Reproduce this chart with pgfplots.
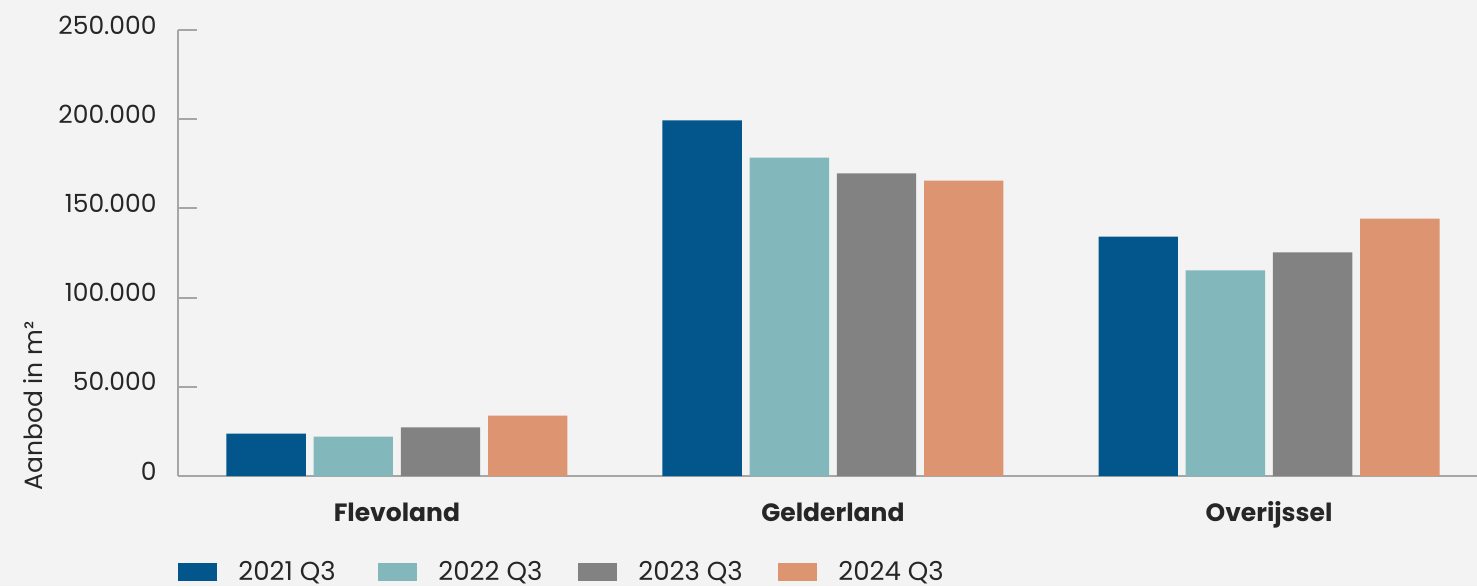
\documentclass[border=0pt]{standalone}
\usepackage{pgfplots}
\pgfplotsset{compat=1.18}
\usepackage{fontspec}
\setmainfont{Poppins}
\definecolor{bg}{HTML}{F3F3F3}
\definecolor{axgray}{HTML}{A6A6A6}
\definecolor{txt}{HTML}{262626}
\definecolor{cA}{HTML}{02568B}
\definecolor{cB}{HTML}{82B7BC}
\definecolor{cC}{HTML}{828282}
\definecolor{cD}{HTML}{DC9570}
\pgfplotsset{boxlegend/.style={legend image code/.code={\fill[##1] (0pt,-4.5pt) rectangle (19.5pt,4.5pt);}}}
\begin{document}
\begin{tikzpicture}
\fill[bg] (0,0) rectangle (738.5pt,293pt);
\begin{axis}[
  at={(89pt,55pt)}, anchor=south west,
  width=649.5pt, height=223pt, scale only axis,
  xmin=-0.502, xmax=2.477, ymin=0, ymax=250000,
  axis x line*=bottom, axis y line*=left,
  axis line style={axgray, line width=1pt, -},
  ytick={0,50000,100000,150000,200000,250000},
  yticklabels={0,50.000,100.000,150.000,200.000,250.000},
  xtick={0,1,2}, xticklabels={Flevoland,Gelderland,Overijssel},
  scaled y ticks=false,
  tick align=inside, major tick length=9.5pt,
  ytick style={axgray, line width=1pt},
  xtick style={draw=none},
  yticklabel style={font=\fontsize{12.5}{15}\selectfont, text=txt, inner sep=0pt, anchor=east, xshift=-10.5pt, yshift=2.5pt},
  xticklabel style={font=\fontsize{12.5}{15}\selectfont\bfseries, text=txt, inner sep=0pt, anchor=base, yshift=-22.5pt},
  ylabel={Aanbod in m²},
  ylabel style={font=\fontsize{12.5}{15}\selectfont, text=txt, at={(axis description cs:-0.1116,0.157)}, anchor=center},
  legend columns=4,
  legend style={draw=none, fill=none, inner xsep=0pt, inner ysep=0pt,
    nodes={inner sep=0pt, text=txt, font=\fontsize{13}{15}\selectfont},
    at={(axis description cs:0,0)}, anchor=west, yshift=-48pt,
    /tikz/every odd column/.append style={column sep=10.5pt},
    /tikz/every even column/.append style={column sep=20pt}},
]
\addplot[ybar, bar width=0.182, bar shift=-0.3, fill=cA, draw=none, boxlegend]
  coordinates {(0,23800) (1,199300) (2,134200)};
\addlegendentry{\makebox[50pt][l]{2021 Q3}}
\addplot[ybar, bar width=0.182, bar shift=-0.1, fill=cB, draw=none, boxlegend]
  coordinates {(0,22100) (1,178500) (2,115200)};
\addlegendentry{\makebox[50pt][l]{2022 Q3}}
\addplot[ybar, bar width=0.182, bar shift=0.1, fill=cC, draw=none, boxlegend]
  coordinates {(0,27200) (1,169600) (2,125300)};
\addlegendentry{\makebox[50pt][l]{2023 Q3}}
\addplot[ybar, bar width=0.182, bar shift=0.3, fill=cD, draw=none, boxlegend]
  coordinates {(0,33900) (1,165600) (2,144300)};
\addlegendentry{\makebox[50pt][l]{2024 Q3}}
\end{axis}
\pgfresetboundingbox
\path (0,0) rectangle (738.5pt,293pt);
\end{tikzpicture}
\end{document}
